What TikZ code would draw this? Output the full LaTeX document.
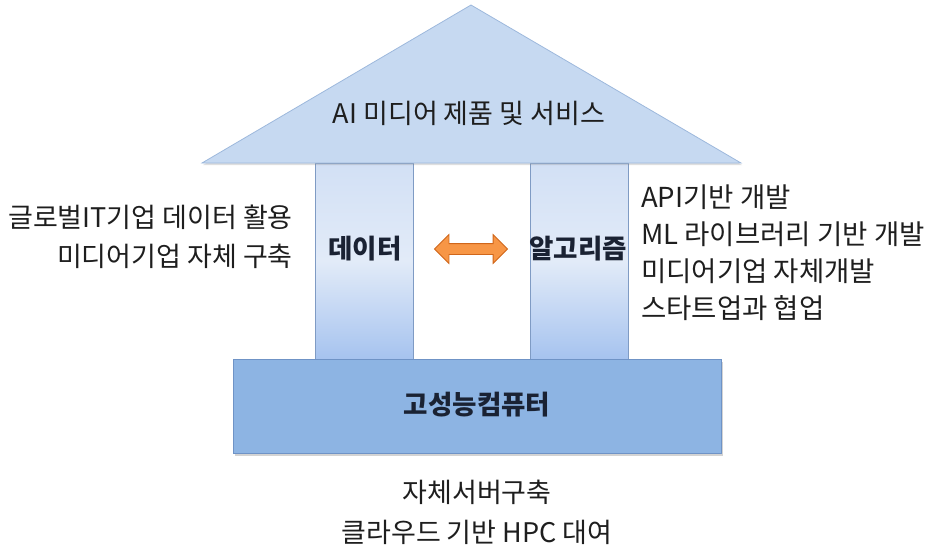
\documentclass[tikz,border=0pt]{standalone}
\usepackage{fontspec}
\setmainfont{Noto Sans CJK KR}
\usetikzlibrary{shapes.arrows,shadows}
\definecolor{roofFill}{HTML}{C6D9F1}
\definecolor{roofLine}{HTML}{9DB8DC}
\definecolor{colTop}{HTML}{D2E0F5}
\definecolor{colMid}{HTML}{E2EBF8}
\definecolor{colBot}{HTML}{A6C3EF}
\definecolor{colLine}{HTML}{7F9BC4}
\definecolor{baseFill}{HTML}{8DB4E3}
\definecolor{baseLine}{HTML}{6F93C6}
\definecolor{arrFill}{HTML}{F79646}
\definecolor{arrLine}{HTML}{D0661A}
\definecolor{txt}{HTML}{1E1E1E}
\definecolor{txtB}{HTML}{1A2233}
\tikzset{
  roof/.style={fill=roofFill, draw=roofLine, line width=0.8pt,
    drop shadow={shadow xshift=1pt, shadow yshift=-2pt, opacity=0.25}},
  pillar/.style={draw=colLine, line width=0.8pt, top color=colTop, bottom color=colBot, middle color=colMid},
  basebox/.style={fill=baseFill, draw=baseLine, line width=0.8pt,
    drop shadow={shadow xshift=1.5pt, shadow yshift=-3pt, opacity=0.35}},
  lbl/.style={text=txt, font=\fontsize{27}{38}\selectfont, inner sep=0pt},
  blbl/.style={text=txtB, font=\fontsize{26.5}{30}\selectfont\bfseries, inner sep=0pt},
  dbl/.style={double arrow, fill=arrFill, draw=arrLine, line width=0.8pt,
    minimum height=73pt, minimum width=28pt, inner sep=5pt,
    double arrow head extend=9pt}
}
\begin{document}
\begin{tikzpicture}[x=1pt,y=-1pt]
\useasboundingbox (0,0) rectangle (930,555);
% pillars
\path[pillar] (315,163) rectangle (413,359);
\path[pillar] (530,163) rectangle (628,359);
% roof
\path[roof] (471,5) -- (741,163) -- (202,163) -- cycle;
% base
\path[basebox] (233,359) rectangle (721,453);
% labels
\node[lbl] (roofT) at (469,113) {AI 미디어 제품 및 서비스};
\node[blbl] (dataT) at (365,249) {데이터};
\node[blbl] (algoT) at (578,249) {알고리즘};
\node[blbl] (hpcT) at (477,405) {고성능컴퓨터};
\node[dbl] (arr) at (471,249) {};
\node[lbl, anchor=east, align=right, font=\fontsize{27}{39}\selectfont] (leftT) at (293,237) {글로벌IT기업 데이터 활용\\미디어기업 자체 구축};
\node[lbl, anchor=west, align=left, font=\fontsize{27.5}{37}\selectfont] (rightT) at (641,253) {API기반 개발\\ML 라이브러리 기반 개발\\미디어기업 자체개발\\스타트업과 협업};
\node[lbl, align=center, font=\fontsize{27}{40}\selectfont] (botT) at (477,512) {자체서버구축\\클라우드 기반 HPC 대여};
\end{tikzpicture}
\end{document}
